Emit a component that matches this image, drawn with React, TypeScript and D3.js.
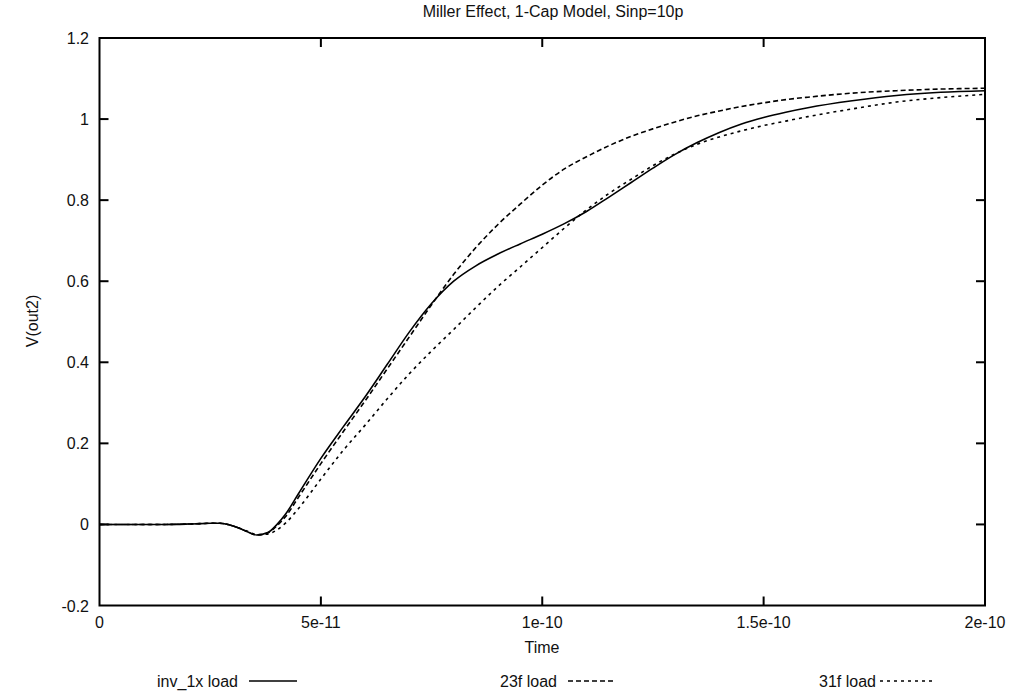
import React from "react";
import * as d3 from "d3";

// time in picoseconds
const timePs = [0, 5, 10, 15, 20, 23, 25, 27, 29, 31, 33, 35.5, 38, 40, 42, 45, 50, 55, 60, 65, 70, 75, 80, 85, 90, 95, 100, 105, 110, 115, 120, 125, 130, 135, 140, 145, 150, 155, 160, 170, 180, 190, 200];

const inv1x = [0, 0, 0, 0, 0.001, 0.002, 0.003, 0.003, 0.0, -0.007, -0.016, -0.026, -0.02, -0.001, 0.025, 0.077, 0.163, 0.24, 0.315, 0.395, 0.475, 0.545, 0.6, 0.638, 0.667, 0.692, 0.716, 0.742, 0.772, 0.807, 0.843, 0.879, 0.913, 0.942, 0.967, 0.988, 1.004, 1.017, 1.028, 1.045, 1.058, 1.066, 1.07];

const load23f = [0, 0, 0, 0, 0.001, 0.002, 0.003, 0.003, 0.0, -0.007, -0.016, -0.026, -0.021, -0.004, 0.019, 0.068, 0.15, 0.228, 0.305, 0.384, 0.463, 0.542, 0.617, 0.683, 0.74, 0.79, 0.837, 0.877, 0.907, 0.934, 0.957, 0.976, 0.993, 1.008, 1.02, 1.031, 1.04, 1.048, 1.054, 1.064, 1.07, 1.074, 1.076];

const load31f = [0, 0, 0, 0, 0.001, 0.002, 0.003, 0.003, 0.0, -0.007, -0.015, -0.025, -0.024, -0.014, 0.003, 0.04, 0.112, 0.182, 0.245, 0.31, 0.372, 0.428, 0.481, 0.535, 0.587, 0.635, 0.683, 0.731, 0.776, 0.816, 0.851, 0.885, 0.914, 0.938, 0.956, 0.971, 0.984, 0.995, 1.006, 1.025, 1.042, 1.053, 1.061];

const xTicks = [0, 50, 100, 150, 200];
const xTickLabels = ["0", "5e-11", "1e-10", "1.5e-10", "2e-10"];
const yTicks = [-0.2, 0, 0.2, 0.4, 0.6, 0.8, 1, 1.2];
const yTickLabels = ["-0.2", "0", "0.2", "0.4", "0.6", "0.8", "1", "1.2"];

const seriesNames = ["inv_1x load", "23f load", "31f load"];
const seriesValues = [inv1x, load23f, load31f];
const dashes = ["none", "5,3", "3,4"];

const W = 1025;
const H = 691;
const L = 99.5, R = 985, T = 38, B = 605.5;
const FONT = "'Liberation Sans', Arial, Helvetica, sans-serif";
const FS = 16;

export default function App() {
  const x = d3.scaleLinear().domain([0, 200]).range([L, R]);
  const y = d3.scaleLinear().domain([-0.2, 1.2]).range([B, T]);
  const line = d3
    .line<number>()
    .x((_, i) => x(timePs[i]))
    .y((d) => y(d))
    .curve(d3.curveMonotoneX);

  const tickLen = 9;
  const legendTextEnd = [238, 557, 876];
  const legendLine = [[249, 297], [568, 615], [880, 935]];
  const legendY = 681;

  return (
    <svg
      width={W}
      height={H}
      style={{ position: "absolute", left: 0, top: 0, background: "#fff" }}
      fontFamily={FONT}
    >
      <rect x={0} y={0} width={W} height={H} fill="#fff" />
      <text x={553} y={17} fontSize={FS} textAnchor="middle" fill="#111">
        Miller Effect, 1-Cap Model, Sinp=10p
      </text>

      {/* ticks */}
      {xTicks.map((t, i) => (
        <g key={"xt" + i}>
          {i > 0 && i < xTicks.length - 1 && (
            <>
              <line x1={x(t)} x2={x(t)} y1={B} y2={B - tickLen} stroke="#000" strokeWidth={2} />
              <line x1={x(t)} x2={x(t)} y1={T} y2={T + tickLen} stroke="#000" strokeWidth={2} />
            </>
          )}
          <text x={x(t)} y={628} fontSize={FS} textAnchor="middle" fill="#111">
            {xTickLabels[i]}
          </text>
        </g>
      ))}
      {yTicks.map((v, i) => (
        <g key={"yt" + i}>
          {i > 0 && i < yTicks.length - 1 && (
            <>
              <line x1={L} x2={L + tickLen} y1={y(v)} y2={y(v)} stroke="#000" strokeWidth={2} />
              <line x1={R} x2={R - tickLen} y1={y(v)} y2={y(v)} stroke="#000" strokeWidth={2} />
            </>
          )}
          <text x={89} y={y(v) + 6} fontSize={FS} textAnchor="end" fill="#111">
            {yTickLabels[i]}
          </text>
        </g>
      ))}

      {/* curves */}
      {seriesValues.map((vals, i) => (
        <path
          key={"s" + i}
          d={line(vals) || ""}
          fill="none"
          stroke="#000"
          strokeWidth={1.6}
          strokeDasharray={dashes[i]}
        />
      ))}

      {/* frame */}
      <rect x={L} y={T} width={R - L} height={B - T} fill="none" stroke="#000" strokeWidth={2} />

      {/* axis labels */}
      <text x={542} y={653} fontSize={FS} textAnchor="middle" fill="#111">
        Time
      </text>
      <text
        transform={`translate(38,321) rotate(-90)`}
        fontSize={FS}
        textAnchor="middle"
        fill="#111"
      >
        V(out2)
      </text>

      {/* legend */}
      {seriesNames.map((n, i) => (
        <g key={"lg" + i}>
          <text x={legendTextEnd[i]} y={legendY + 5.5} fontSize={FS} textAnchor="end" fill="#111">
            {n}
          </text>
          <line
            x1={legendLine[i][0]}
            x2={legendLine[i][1]}
            y1={legendY}
            y2={legendY}
            stroke="#000"
            strokeWidth={1.3}
            strokeDasharray={dashes[i]}
          />
        </g>
      ))}
    </svg>
  );
}
